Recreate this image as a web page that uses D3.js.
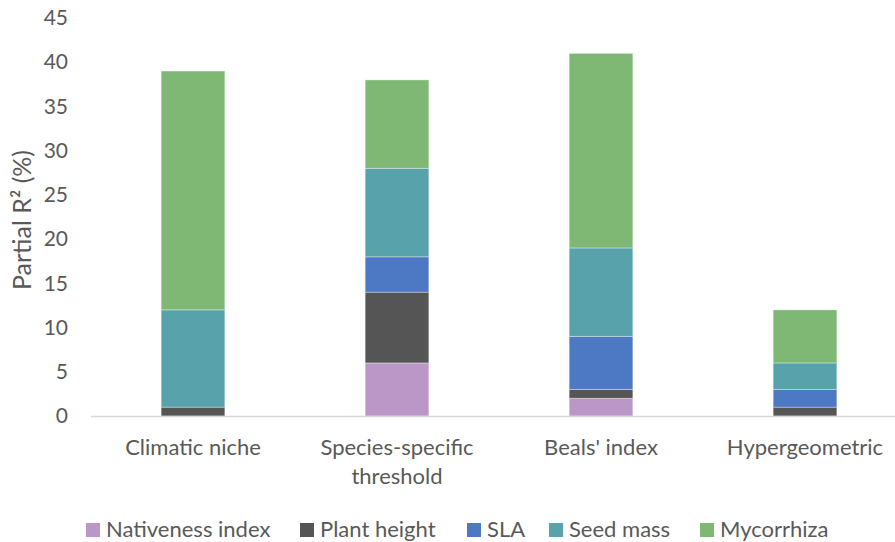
<!DOCTYPE html>
<html>
<head>
<meta charset="utf-8">
<script src="https://cdn.jsdelivr.net/npm/d3@7"></script>
<style>
  html, body { margin: 0; padding: 0; background: #fff; }
  svg { display: block; font-family: Lato, "Open Sans", sans-serif; }
</style>
</head>
<body>
<svg id="chart" width="895" height="542"></svg>
<script>
// Methods compared and the share of variance each trait explains (partial R², %)
const methods = ["Climatic niche", "Species-specific threshold", "Beals' index", "Hypergeometric"];
const methodLines = [["Climatic niche"], ["Species-specific", "threshold"], ["Beals' index"], ["Hypergeometric"]];
const traits = ["Nativeness index", "Plant height", "SLA", "Seed mass", "Mycorrhiza"];
const nativeness = [0, 6, 2, 0];
const plantHeight = [1, 8, 1, 1];
const sla = [0, 4, 6, 2];
const seedMass = [11, 10, 10, 3];
const mycorrhiza = [27, 10, 22, 6];
const yTicks = [0, 5, 10, 15, 20, 25, 30, 35, 40, 45];
const colors = ["#BB97C7", "#555555", "#4D78C3", "#58A2AC", "#7EB874"];

const seriesValues = [nativeness, plantHeight, sla, seedMass, mycorrhiza];
const rows = methods.map((m, i) => {
  const r = { method: m };
  traits.forEach((t, k) => { r[t] = seriesValues[k][i]; });
  return r;
});

const textColor = "#595959";
const svg = d3.select("#chart");
const plot = { left: 91, right: 907, top: 18, bottom: 416 };

const x = d3.scaleBand().domain(methods).range([plot.left, plot.right]).paddingInner(0.688).paddingOuter(0.344);
const y = d3.scaleLinear().domain([0, 45]).range([plot.bottom, plot.top]);

const stack = d3.stack().keys(traits)(rows);

// stacked segments
svg.append("g").selectAll("g").data(stack).join("g")
  .attr("fill", (d, i) => colors[i])
  .selectAll("rect").data(d => d.filter(s => s[1] - s[0] > 0)).join("rect")
  .attr("x", d => x(d.data.method))
  .attr("width", x.bandwidth())
  .attr("y", d => y(d[1]))
  .attr("height", d => y(d[0]) - y(d[1]))
  .attr("stroke", "rgba(255,255,255,0.35)")
  .attr("stroke-width", 1);

// category axis line
svg.append("line")
  .attr("x1", plot.left).attr("x2", 895)
  .attr("y1", plot.bottom + 0.5).attr("y2", plot.bottom + 0.5)
  .attr("stroke", "#D9D9D9").attr("stroke-width", 1.5);

// value axis labels
const yAxis = d3.axisLeft(y).tickValues(yTicks).tickSize(0).tickPadding(0);
const yg = svg.append("g").attr("transform", `translate(68,0)`).call(yAxis);
yg.select(".domain").remove();
yg.selectAll("text").attr("fill", textColor).style("font-size", "21px").style("font-family", "Lato, sans-serif");

// category labels
const xg = svg.append("g");
methodLines.forEach((lines, i) => {
  const cx = x(methods[i]) + x.bandwidth() / 2;
  const t = xg.append("text")
    .attr("x", cx)
    .attr("y", 455)
    .attr("text-anchor", "middle")
    .attr("fill", textColor)
    .style("font-size", "22px");
  lines.forEach((ln, j) => t.append("tspan").attr("x", cx).attr("dy", j === 0 ? 0 : 29).text(ln));
});

// axis title
svg.append("text")
  .attr("transform", "translate(31,220) rotate(-90)")
  .attr("text-anchor", "middle")
  .attr("fill", textColor)
  .style("font-size", "25px")
  .text("Partial R² (%)");

// legend
const legendX = [86, 300, 467, 549, 700];
const lg = svg.append("g");
traits.forEach((t, i) => {
  lg.append("rect").attr("x", legendX[i]).attr("y", 523).attr("width", 14).attr("height", 14).attr("fill", colors[i]);
  lg.append("text").attr("x", legendX[i] + 20).attr("y", 537)
    .attr("fill", textColor).style("font-size", "22px").text(t);
});
</script>
</body>
</html>
